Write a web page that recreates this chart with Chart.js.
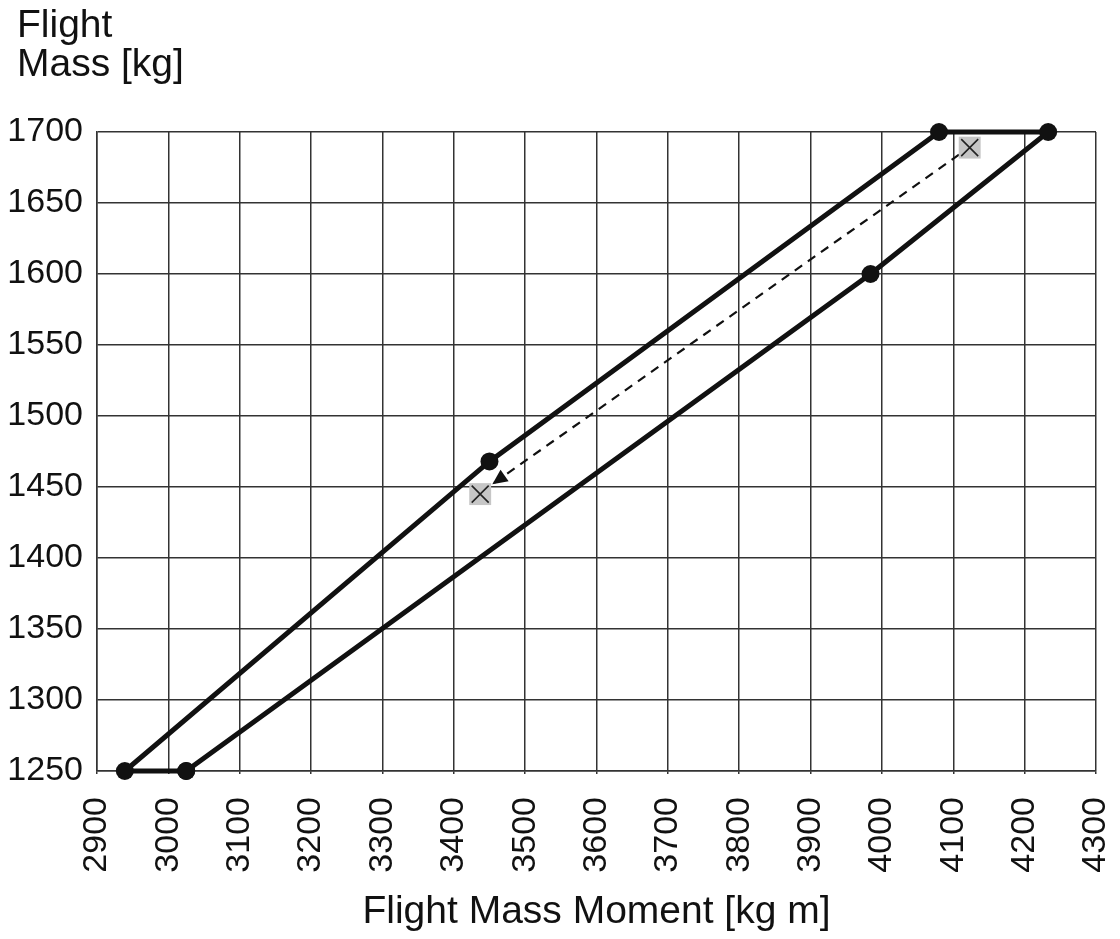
<!DOCTYPE html>
<html>
<head>
<meta charset="utf-8">
<script src="https://cdn.jsdelivr.net/npm/chart.js@4.4.1/dist/chart.umd.min.js"></script>
<style>
html,body{margin:0;padding:0;background:#fff}
#wrap{width:1120px;height:939px;position:relative}
</style>
</head>
<body>
<div id="wrap"><canvas id="chart"></canvas></div>
<script>
// ===== DATA =====
// envelope corners, closed loop (moment kg m, mass kg)
const envMoment = [3025, 2939, 3450, 4080, 4233, 3984, 3025];
const envMass   = [1250, 1250, 1468, 1700, 1700, 1600, 1250];
// dashed shift line, start -> arrow tip
const shiftMoment = [4108, 3454];
const shiftMass   = [1684, 1452];
// grey X markers
const markMoment = [4123, 3437];
const markMass   = [1689, 1445];

const xMin = 2900, xMax = 4300, xStep = 100;
const yMin = 1250, yMax = 1700, yStep = 50;

const FONT = "'Liberation Sans', Arial, Helvetica, sans-serif";
const INK = "#111";
const GRID = "#333";

const pts = (xs, ys) => xs.map((x, i) => ({x, y: ys[i]}));

// ===== PLUGINS =====
// y axis title sits top-left, two lines
const yTitle = {
    id: "yTitle",
    afterDraw(chart){
        const ctx = chart.ctx;
        ctx.save();
        ctx.fillStyle = INK;
        ctx.font = "39px " + FONT;
        ctx.textAlign = "left";
        ctx.textBaseline = "alphabetic";
        ctx.fillText("Flight", 17, 37);
        ctx.fillText("Mass [kg]", 17, 76);
        ctx.restore();
    }
};

// arrow head at the end of the dashed line
const arrowHead = {
    id: "arrowHead",
    afterDatasetsDraw(chart){
        const xs = chart.scales.x, ys = chart.scales.y;
        const x0 = xs.getPixelForValue(shiftMoment[0]), y0 = ys.getPixelForValue(shiftMass[0]);
        const x1 = xs.getPixelForValue(shiftMoment[1]), y1 = ys.getPixelForValue(shiftMass[1]);
        const a = Math.atan2(y1 - y0, x1 - x0);
        const len = 15, half = 7;
        const bx = x1 - Math.cos(a) * len, by = y1 - Math.sin(a) * len;
        const ctx = chart.ctx;
        ctx.save();
        ctx.fillStyle = INK;
        ctx.beginPath();
        ctx.moveTo(x1, y1);
        ctx.lineTo(bx + Math.sin(a) * half, by - Math.cos(a) * half);
        ctx.lineTo(bx - Math.sin(a) * half, by + Math.cos(a) * half);
        ctx.closePath();
        ctx.fill();
        ctx.restore();
    }
};

const plain = v => String(v);

// ===== CHART =====
new Chart(document.getElementById("chart").getContext("2d"), {
    type: "scatter",
    data: {
        datasets: [
            {
                data: pts(envMoment, envMass), showLine: true, tension: 0, clip: false,
                borderColor: INK, borderWidth: 5,
                pointRadius: 9, pointBackgroundColor: INK, pointBorderWidth: 0,
                order: 3
            },
            {
                data: pts(shiftMoment, shiftMass), showLine: true, clip: false,
                borderColor: INK, borderWidth: 2.2, borderDash: [9, 7],
                pointRadius: 0, order: 2
            },
            {
                data: pts(markMoment, markMass), clip: false,
                pointStyle: "rect", pointRadius: 15.5,
                pointBackgroundColor: "#c6c6c6", pointBorderWidth: 0,
                order: 1
            },
            {
                data: pts(markMoment, markMass), clip: false,
                pointStyle: "crossRot", pointRadius: 12,
                pointBorderColor: "#222", pointBorderWidth: 1.6,
                order: 0
            }
        ]
    },
    options: {
        responsive: true, maintainAspectRatio: false, animation: false,
        layout: {padding: {top: 132, left: 7, right: 24, bottom: 0}},
        plugins: {legend: {display: false}, tooltip: {enabled: false}},
        scales: {
            x: {
                type: "linear", min: xMin, max: xMax,
                afterFit: s => { s.paddingLeft = 0; s.paddingRight = 0; s.height = 168; },
                border: {color: GRID, width: 1.5},
                grid: {color: GRID, lineWidth: 1.5, drawTicks: true, tickLength: 3, tickColor: GRID},
                ticks: {stepSize: xStep, maxRotation: 90, minRotation: 90, padding: 23,
                        color: INK, font: {family: FONT, size: 34}, callback: plain},
                title: {display: true, text: "Flight Mass Moment [kg m]", color: INK,
                        font: {family: FONT, size: 39}, padding: {top: 17, bottom: 3}}
            },
            y: {
                type: "linear", min: yMin, max: yMax,
                afterFit: s => { s.width = 90; },
                border: {color: GRID, width: 1.5},
                grid: {color: GRID, lineWidth: 1.5, drawTicks: false},
                ticks: {stepSize: yStep, padding: 14, color: INK, font: {family: FONT, size: 34}, callback: plain}
            }
        }
    },
    plugins: [yTitle, arrowHead]
});
</script>
</body>
</html>
